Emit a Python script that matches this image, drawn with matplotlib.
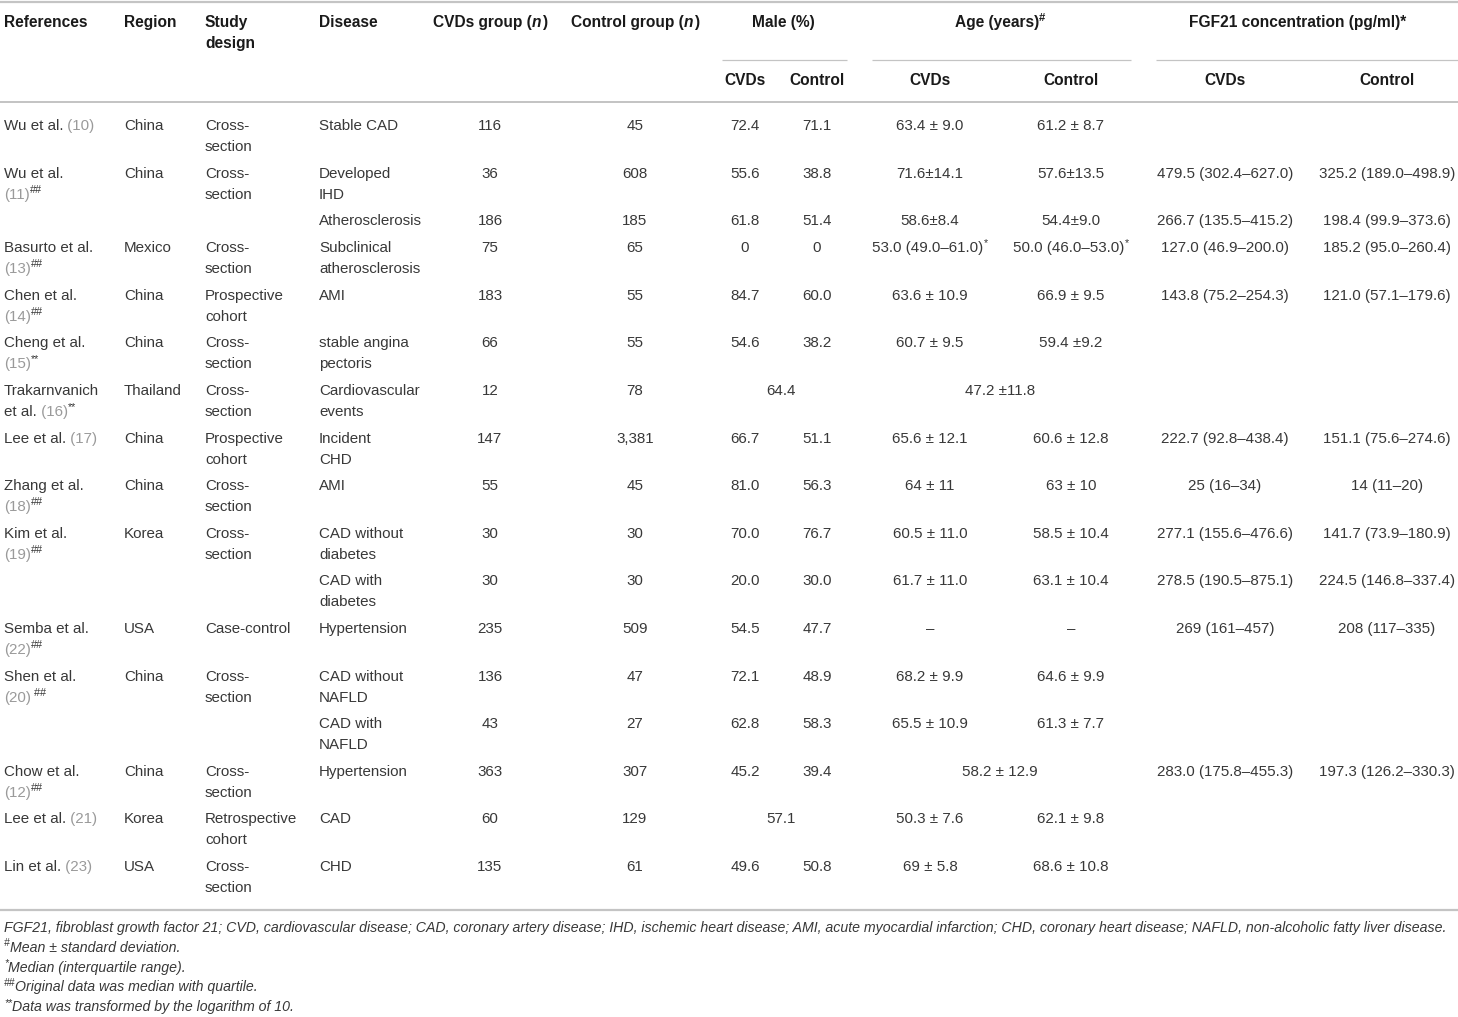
import re
import matplotlib
matplotlib.use("Agg")
import matplotlib.pyplot as plt

plt.rcParams['font.family'] = ['Liberation Sans', 'DejaVu Sans']

# ---------------- data ----------------
header_top = ["References", "Region", "Study\ndesign", "Disease", "CVDs group (_{n})",
              "Control group (_{n})", "Male (%)", "Age (years)^{#}", "FGF21 concentration (pg/ml)*"]
sub_headers = ["CVDs", "Control"]

authors = ["Wu et al.", "Wu et al.\n", None, "Basurto et al.\n", "Chen et al.\n", "Cheng et al.\n",
           "Trakarnvanich\net al.", "Lee et al.", "Zhang et al.\n", "Kim et al.\n", None,
           "Semba et al.\n", "Shen et al.\n", None, "Chow et al.\n", "Lee et al.", "Lin et al."]
ref_nums = ["10", "11", None, "13", "14", "15", "16", "17", "18", "19", None, "22", "20", None, "12", "21", "23"]
ref_marks = ["", "##", "", "##", "##", "**", "**", "", "##", "##", "", "##", " ##", "", "##", "", ""]
regions = ["China", "China", "", "Mexico", "China", "China", "Thailand", "China", "China", "Korea", "",
           "USA", "China", "", "China", "Korea", "USA"]
designs = ["Cross-\nsection", "Cross-\nsection", "", "Cross-\nsection", "Prospective\ncohort",
           "Cross-\nsection", "Cross-\nsection", "Prospective\ncohort", "Cross-\nsection", "Cross-\nsection",
           "", "Case-control", "Cross-\nsection", "", "Cross-\nsection", "Retrospective\ncohort",
           "Cross-\nsection"]
diseases = ["Stable CAD", "Developed\nIHD", "Atherosclerosis", "Subclinical\natherosclerosis", "AMI",
            "stable angina\npectoris", "Cardiovascular\nevents", "Incident\nCHD", "AMI", "CAD without\ndiabetes",
            "CAD with\ndiabetes", "Hypertension", "CAD without\nNAFLD", "CAD with\nNAFLD", "Hypertension",
            "CAD", "CHD"]
cvd_n = ["116", "36", "186", "75", "183", "66", "12", "147", "55", "30", "30", "235", "136", "43", "363", "60", "135"]
ctrl_n = ["45", "608", "185", "65", "55", "55", "78", "3,381", "45", "30", "30", "509", "47", "27", "307", "129", "61"]
male_cvd = ["72.4", "55.6", "61.8", "0", "84.7", "54.6", "64.4", "66.7", "81.0", "70.0", "20.0", "54.5",
            "72.1", "62.8", "45.2", "57.1", "49.6"]
male_ctrl = ["71.1", "38.8", "51.4", "0", "60.0", "38.2", None, "51.1", "56.3", "76.7", "30.0", "47.7",
             "48.9", "58.3", "39.4", None, "50.8"]
age_cvd = ["63.4 ± 9.0", "71.6±14.1", "58.6±8.4", "53.0 (49.0–61.0)^{*}", "63.6 ± 10.9", "60.7 ± 9.5",
           "47.2 ±11.8", "65.6 ± 12.1", "64 ± 11", "60.5 ± 11.0", "61.7 ± 11.0", "–", "68.2 ± 9.9",
           "65.5 ± 10.9", "58.2 ± 12.9", "50.3 ± 7.6", "69 ± 5.8"]
age_ctrl = ["61.2 ± 8.7", "57.6±13.5", "54.4±9.0", "50.0 (46.0–53.0)^{*}", "66.9 ± 9.5", "59.4 ±9.2",
            None, "60.6 ± 12.8", "63 ± 10", "58.5 ± 10.4", "63.1 ± 10.4", "–", "64.6 ± 9.9", "61.3 ± 7.7",
            None, "62.1 ± 9.8", "68.6 ± 10.8"]
fgf_cvd = ["", "479.5 (302.4–627.0)", "266.7 (135.5–415.2)", "127.0 (46.9–200.0)", "143.8 (75.2–254.3)",
           "", "", "222.7 (92.8–438.4)", "25 (16–34)", "277.1 (155.6–476.6)", "278.5 (190.5–875.1)",
           "269 (161–457)", "", "", "283.0 (175.8–455.3)", "", ""]
fgf_ctrl = ["", "325.2 (189.0–498.9)", "198.4 (99.9–373.6)", "185.2 (95.0–260.4)", "121.0 (57.1–179.6)",
            "", "", "151.1 (75.6–274.6)", "14 (11–20)", "141.7 (73.9–180.9)", "224.5 (146.8–337.4)",
            "208 (117–335)", "", "", "197.3 (126.2–330.3)", "", ""]
footnotes = [
    "FGF21, fibroblast growth factor 21; CVD, cardiovascular disease; CAD, coronary artery disease; "
    "IHD, ischemic heart disease; AMI, acute myocardial infarction; CHD, coronary heart disease; "
    "NAFLD, non-alcoholic fatty liver disease.",
    "^{#}Mean ± standard deviation.",
    "^{*}Median (interquartile range).",
    "^{##}Original data was median with quartile.",
    "^{**}Data was transformed by the logarithm of 10.",
]

# ---------------- layout ----------------
W, H = 1458, 1017
fig = plt.figure(figsize=(W / 100, H / 100), dpi=100)
ax = fig.add_axes([0, 0, 1, 1])
ax.set_xlim(0, W)
ax.set_ylim(H, 0)
ax.axis('off')
renderer = fig.canvas.get_renderer()

FS = 10.9
HFS = 11.2
FOOT_FS = 10.2
BODY = '#383838'
HEAD = '#1a1a1a'
REFC = '#9a9a9a'
LINEC = '#c4c4c4'
BASE = 5.0   # baseline offset from visual line center

x_ref, x_region, x_design, x_disease = 4, 124, 205, 319
c_cvd, c_ctrl = 490, 635
c_male = (745, 817); c_male_m = 781
c_age = (930, 1071); c_age_m = 1000
c_fgf = (1225, 1387)
group_centers = [783, 1000, 1298]
group_spans = [(722, 847), (872, 1131), (1156, 1458)]


def parse(s, base_style):
    runs = []
    pos = 0
    for m in re.finditer(r'([\^_])\{(.*?)\}', s):
        if m.start() > pos:
            runs.append((s[pos:m.start()], dict(base_style)))
        st = dict(base_style)
        if m.group(1) == '^':
            st['sup'] = True
        else:
            st['style'] = 'italic'
        runs.append((m.group(2), st))
        pos = m.end()
    if pos < len(s):
        runs.append((s[pos:], dict(base_style)))
    return runs


def draw_runs(x, y, runs, ha='left'):
    objs = []
    for txt, st in runs:
        size = st.get('size', FS)
        dy = 0
        if st.get('sup'):
            size = size * 0.72
            dy = -size * 0.75
        t = ax.text(0, y + BASE + dy, txt, fontsize=size, color=st.get('color', BODY),
                    fontweight=st.get('weight', 'normal'), fontstyle=st.get('style', 'normal'),
                    ha='left', va='baseline')
        objs.append(t)
    widths = [t.get_window_extent(renderer).width for t in objs]
    total = sum(widths)
    cx = x if ha == 'left' else x - total / 2
    for t, w in zip(objs, widths):
        t.set_x(cx)
        cx += w


def draw_cell(x, y, text, ha='left', style=None, lh=21):
    if not text:
        return
    style = style or {}
    for i, line in enumerate(text.split('\n')):
        draw_runs(x, y + i * lh, parse(line, style), ha=ha)


def hline(y, x0, x1, lw_px, color=LINEC):
    ax.plot([x0, x1], [y, y], color=color, lw=lw_px * 0.72, solid_capstyle='butt')


# horizontal rules
hline(2, 0, W, 2.2)
for (a, b) in group_spans:
    hline(60, a, b, 1.2)
hline(102, 0, W, 2.0)

# header
hs = dict(weight='bold', color=HEAD, size=HFS)
y_h1, y_h2 = 22, 80
draw_cell(x_ref, y_h1, header_top[0], style=hs)
draw_cell(x_region, y_h1, header_top[1], style=hs)
draw_cell(x_design, y_h1, header_top[2], style=hs)
draw_cell(x_disease, y_h1, header_top[3], style=hs)
draw_cell(c_cvd, y_h1, header_top[4], ha='center', style=hs)
draw_cell(c_ctrl, y_h1, header_top[5], ha='center', style=hs)
for gc, txt in zip(group_centers, header_top[6:]):
    draw_cell(gc, y_h1, txt, ha='center', style=hs)
for pair in (c_male, c_age, c_fgf):
    for cx, txt in zip(pair, sub_headers):
        draw_cell(cx, y_h2, txt, ha='center', style=hs)

# body
ROW_BASE, LINE_H = 27.0, 20.6
y = 125
for i in range(len(diseases)):
    cells = [designs[i], diseases[i]]
    nlines = max(len(c.split('\n')) for c in cells)
    if authors[i] is not None:
        nlines = max(nlines, len(authors[i].split('\n')))
        parts = authors[i].split('\n')
        for k, p in enumerate(parts):
            runs = parse(p, {})
            if k == len(parts) - 1:
                runs.append(((" (" if p else "(") + ref_nums[i] + ")", dict(color=REFC)))
                if ref_marks[i]:
                    runs.append((ref_marks[i], dict(sup=True)))
            draw_runs(x_ref, y + k * 21, runs)
    draw_cell(x_region, y, regions[i])
    draw_cell(x_design, y, designs[i])
    draw_cell(x_disease, y, diseases[i])
    draw_cell(c_cvd, y, cvd_n[i], ha='center')
    draw_cell(c_ctrl, y, ctrl_n[i], ha='center')
    if male_ctrl[i] is None:
        draw_cell(c_male_m, y, male_cvd[i], ha='center')
    else:
        draw_cell(c_male[0], y, male_cvd[i], ha='center')
        draw_cell(c_male[1], y, male_ctrl[i], ha='center')
    if age_ctrl[i] is None:
        draw_cell(c_age_m, y, age_cvd[i], ha='center')
    else:
        draw_cell(c_age[0], y, age_cvd[i], ha='center')
        draw_cell(c_age[1], y, age_ctrl[i], ha='center')
    draw_cell(c_fgf[0], y, fgf_cvd[i], ha='center')
    draw_cell(c_fgf[1], y, fgf_ctrl[i], ha='center')
    y += ROW_BASE + (nlines - 1) * LINE_H

hline(910, 0, W, 2.2)

# footnotes
fy = 927
for fn in footnotes:
    draw_runs(x_ref, fy, parse(fn, dict(style='italic', size=FOOT_FS)))
    fy += 19.8

fig.savefig('out.png', dpi=100)
